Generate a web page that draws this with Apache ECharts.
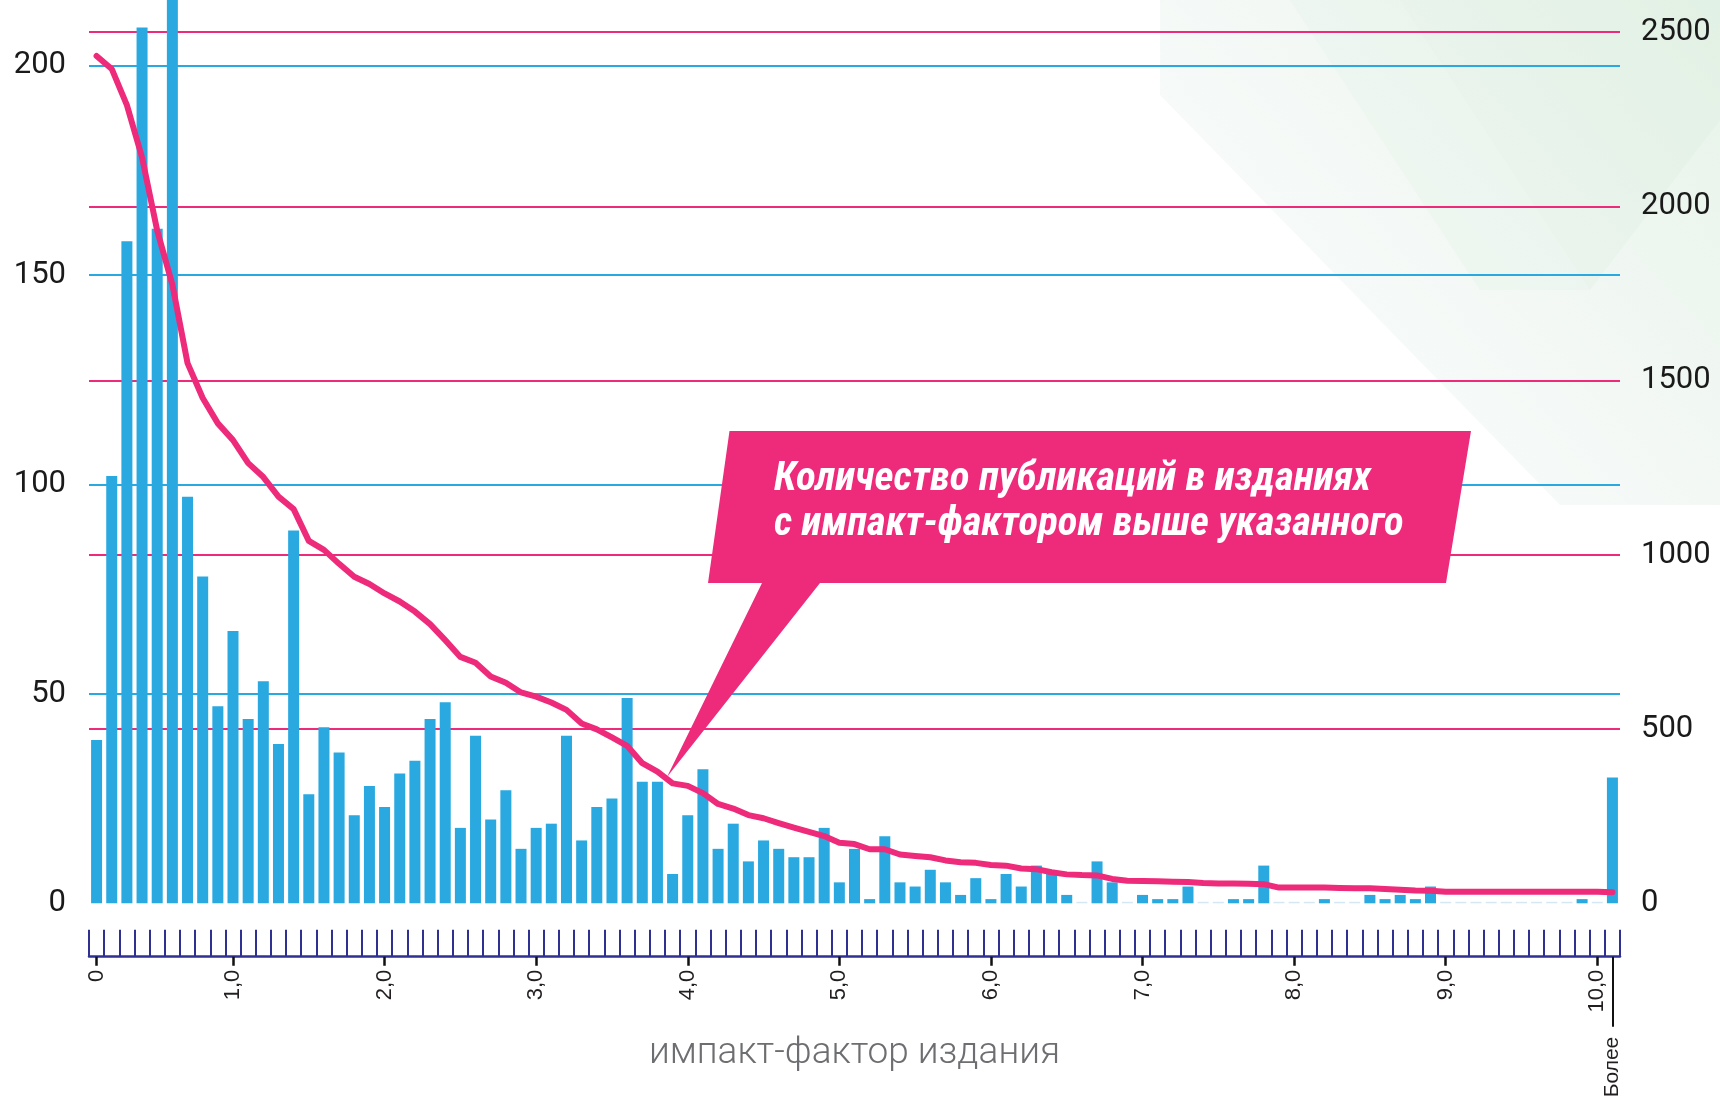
<!DOCTYPE html>
<html>
<head>
<meta charset="utf-8">
<script src="https://cdn.jsdelivr.net/npm/echarts@6/dist/echarts.min.js"></script>
<style>
html,body{margin:0;padding:0;background:#ffffff;}
#chart{width:1720px;height:1098px;}
</style>
</head>
<body>
<div id="chart"></div>
<script>
// ---- data ----
const categories = [
  '0,1','0,2','0,3','0,4','0,5','0,6','0,7','0,8','0,9','1,0',
  '1,1','1,2','1,3','1,4','1,5','1,6','1,7','1,8','1,9','2,0',
  '2,1','2,2','2,3','2,4','2,5','2,6','2,7','2,8','2,9','3,0',
  '3,1','3,2','3,3','3,4','3,5','3,6','3,7','3,8','3,9','4,0',
  '4,1','4,2','4,3','4,4','4,5','4,6','4,7','4,8','4,9','5,0',
  '5,1','5,2','5,3','5,4','5,5','5,6','5,7','5,8','5,9','6,0',
  '6,1','6,2','6,3','6,4','6,5','6,6','6,7','6,8','6,9','7,0',
  '7,1','7,2','7,3','7,4','7,5','7,6','7,7','7,8','7,9','8,0',
  '8,1','8,2','8,3','8,4','8,5','8,6','8,7','8,8','8,9','9,0',
  '9,1','9,2','9,3','9,4','9,5','9,6','9,7','9,8','9,9','10,0',
  'Более'
];

// number of publications per impact-factor bin (left axis)
const journalCounts = [
  39,102,158,209,161,218,97,78,47,65,
  44,53,38,89,26,42,36,21,28,23,
  31,34,44,48,18,40,20,27,13,18,
  19,40,15,23,25,49,29,29,7,21,
  32,13,19,10,15,13,11,11,18,5,
  13,1,16,5,4,8,5,2,6,1,
  7,4,9,7,2,0,10,5,0,2,
  1,1,4,0,0,1,1,9,0,0,
  0,1,0,0,2,1,2,1,4,0,
  0,0,0,0,0,0,0,0,1,0,
  30
];

// publications in journals with impact factor above the given one (right axis)
const aboveCounts = [
  2431,2394,2290,2140,1930,1775,1550,1450,1377,1329,
  1263,1223,1167,1131,1040,1014,974,937,916,889,
  866,837,801,755,707,690,651,633,605,593,
  576,555,516,499,476,452,402,378,344,337,
  316,285,272,253,244,230,217,205,193,174,
  170,155,155,140,136,132,123,118,116,110,
  108,100,98,89,83,81,80,70,65,64,
  63,62,61,58,57,57,56,55,45,45,
  45,45,44,43,43,41,39,37,36,33,
  33,33,33,33,33,33,33,33,33,33,
  32
];

const tickLabels = ['0','1,0','2,0','3,0','4,0','5,0','6,0','7,0','8,0','9,0','10,0'];
const tickIndices = [0,9,19,29,39,49,59,69,79,89,99];
const moreIndex = 100;
const moreLabel = 'Более';
const axisTitle = 'импакт-фактор издания';
const calloutLines = ['Количество публикаций в изданиях', 'с импакт-фактором выше указанного'];

// ---- styles ----
const BLUE = '#29a9e0';
const PINK = '#ee2a7b';
const NAVY = '#2e3192';
const ZERO = '#d3e8f4';

const barData = journalCounts.map(v => v === 0 ? {value: 0, itemStyle: {color: ZERO}} : v);
const majorIdx = new Set(tickIndices);
const labelOf = {};
tickIndices.forEach((ix, k) => { labelOf[ix] = tickLabels[k]; });

const chart = echarts.init(document.getElementById('chart'), null, {renderer: 'canvas'});

const bottomOffset = 53.4;
const plainNum = (v) => String(v);

chart.setOption({
  animation: false,
  backgroundColor: '#ffffff',
  grid: {left: 89, width: 1531, top: 0, bottom: 194.7, containLabel: false, outerBoundsMode: 'none'},
  xAxis: [
    {
      type: 'category', data: categories, boundaryGap: true,
      axisLine: {show: false, onZero: false}, axisTick: {show: false}, axisLabel: {show: false}, splitLine: {show: false}
    },
    {
      type: 'category', data: categories, boundaryGap: true, position: 'bottom', offset: bottomOffset,
      axisLine: {show: true, onZero: false, lineStyle: {color: NAVY, width: 2.5}},
      axisTick: {show: true, inside: true, length: 27, interval: 0, lineStyle: {color: NAVY, width: 2}},
      axisLabel: {show: false}, splitLine: {show: false}
    },
    {
      type: 'category', data: categories, boundaryGap: true, position: 'bottom', offset: bottomOffset,
      axisLine: {show: false, onZero: false},
      axisTick: {show: true, alignWithLabel: true, length: 9, interval: (i) => majorIdx.has(i),
        lineStyle: {color: '#111111', width: 2.5}},
      axisLabel: {show: true, interval: (i) => majorIdx.has(i), rotate: 90, margin: 13,
        formatter: (val, i) => labelOf[i] !== undefined ? labelOf[i] : '',
        fontFamily: 'Liberation Sans, Arial, sans-serif', fontSize: 22, color: '#231f20'},
      name: axisTitle, nameLocation: 'middle', nameGap: 79,
      nameTextStyle: {fontFamily: 'Roboto', fontWeight: 300, fontSize: 37, color: '#6d6e71'},
      splitLine: {show: false}
    },
    {
      type: 'category', data: categories, boundaryGap: true, position: 'bottom', offset: bottomOffset,
      axisLine: {show: false, onZero: false},
      axisTick: {show: true, alignWithLabel: true, length: 70, interval: (i) => i === moreIndex,
        lineStyle: {color: '#111111', width: 2}},
      axisLabel: {show: true, interval: (i) => i === moreIndex, rotate: 90, margin: 80,
        formatter: (val, i) => i === moreIndex ? moreLabel : '',
        fontFamily: 'Liberation Sans, Arial, sans-serif', fontSize: 21, color: '#231f20'},
      splitLine: {show: false}
    }
  ],
  yAxis: [
    {
      type: 'value', min: 0, max: 215.58, interval: 50, position: 'left',
      axisLine: {show: false}, axisTick: {show: false},
      axisLabel: {margin: 23, fontFamily: 'Roboto', fontSize: 31, color: '#1a1a1a', showMaxLabel: false, formatter: plainNum},
      splitLine: {show: true, showMinLine: false, showMaxLine: false, lineStyle: {color: BLUE, width: 2}}
    },
    {
      type: 'value', min: 0, max: 2591.8, interval: 500, position: 'right',
      axisLine: {show: false}, axisTick: {show: false},
      axisLabel: {margin: 21, fontFamily: 'Roboto', fontSize: 31, color: '#1a1a1a', showMaxLabel: false, formatter: plainNum},
      splitLine: {show: true, showMinLine: false, showMaxLine: false, lineStyle: {color: PINK, width: 2}}
    }
  ],
  series: [
    {
      type: 'bar', xAxisIndex: 0, yAxisIndex: 0, data: barData,
      barWidth: 11, barMinHeight: 1.5, itemStyle: {color: BLUE}, z: 3
    },
    {
      type: 'line', xAxisIndex: 0, yAxisIndex: 1, data: aboveCounts,
      symbol: 'none', smooth: false,
      lineStyle: {color: PINK, width: 6, cap: 'round', join: 'round'}, z: 4
    }
  ],
  graphic: [
    {
      type: 'polygon', z: -10, silent: true,
      shape: {points: [[1160,0],[1720,0],[1720,505],[1560,505],[1160,95]]},
      style: {fill: new echarts.graphic.LinearGradient(1, 0, 0, 1, [
        {offset: 0, color: '#e6f3e8'}, {offset: 0.45, color: '#f3f8f5'}, {offset: 1, color: '#fcfdfe'}
      ])}
    },
    {
      type: 'polygon', z: -9, silent: true,
      shape: {points: [[1400,0],[1720,0],[1720,120],[1590,290]]},
      style: {fill: 'rgba(214,236,218,0.25)'}
    },
    {
      type: 'polygon', z: -9, silent: true,
      shape: {points: [[1290,0],[1400,0],[1590,290],[1480,290]]},
      style: {fill: 'rgba(225,240,228,0.25)'}
    },
    {
      type: 'polygon', z: 100, silent: true,
      shape: {points: [[729.5,431],[1471,431],[1446,583],[820,583],[667,777],[762,583],[708,583]]},
      style: {fill: PINK}
    },
    {
      type: 'text', z: 101, silent: true, x: 774, y: 480,
      style: {text: calloutLines[0], fill: '#ffffff', fontStyle: 'italic', fontWeight: 'bold', fontSize: 41,
        fontFamily: '"Liberation Sans Narrow", "Roboto Condensed", Roboto, sans-serif', verticalAlign: 'middle', align: 'left'}
    },
    {
      type: 'text', z: 101, silent: true, x: 774, y: 525,
      style: {text: calloutLines[1], fill: '#ffffff', fontStyle: 'italic', fontWeight: 'bold', fontSize: 40.7,
        fontFamily: '"Liberation Sans Narrow", "Roboto Condensed", Roboto, sans-serif', verticalAlign: 'middle', align: 'left'}
    }
  ]
});
</script>
</body>
</html>
